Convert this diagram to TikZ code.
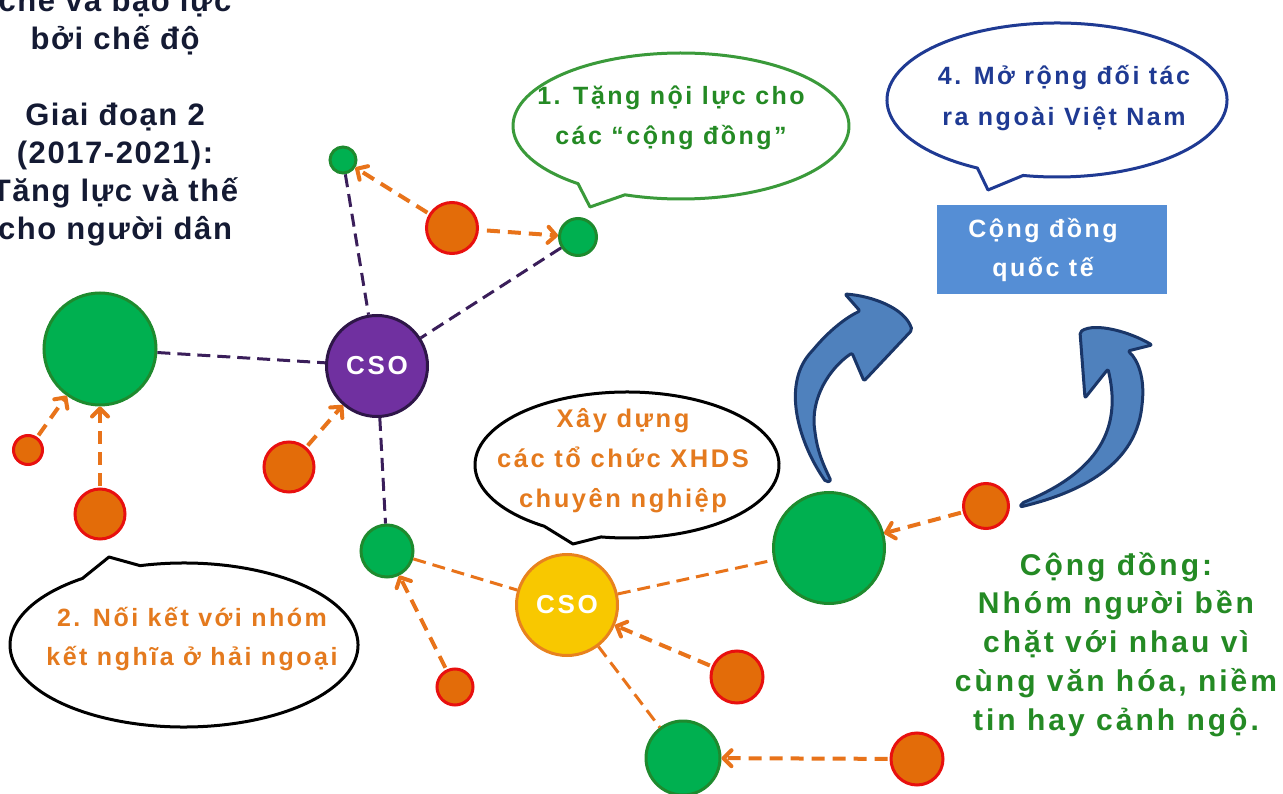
\documentclass[tikz,border=0pt]{standalone}
\usepackage{fontspec}
\setmainfont{Liberation Sans}
\newfontfamily\wide[LetterSpace=10]{Liberation Sans}
\newfontfamily\semi[LetterSpace=5]{Liberation Sans}
\usetikzlibrary{arrows.meta}

\definecolor{grfill}{HTML}{00B050}
\definecolor{grline}{HTML}{1E8A2E}
\definecolor{orfill}{HTML}{E36C09}
\definecolor{orline}{HTML}{E8100F}
\definecolor{purfill}{HTML}{7030A0}
\definecolor{purline}{HTML}{2E1648}
\definecolor{yelfill}{HTML}{F8C800}
\definecolor{yelline}{HTML}{E8821E}
\definecolor{lnor}{HTML}{E8731A}
\definecolor{lnpur}{HTML}{3A1E5A}
\definecolor{navytext}{HTML}{1F3A93}
\definecolor{greentext}{HTML}{248A24}
\definecolor{orangetext}{HTML}{E47A1E}
\definecolor{darktext}{HTML}{141A33}
\definecolor{boxblue}{HTML}{558ED5}
\definecolor{arrfill}{HTML}{4F81BD}
\definecolor{arrline}{HTML}{1A3668}
\definecolor{callgreen}{HTML}{3A9A3A}

\begin{document}
\begin{tikzpicture}[
	x=1pt, y=-1pt,
	ppl/.style  = {circle, draw=orline, fill=orfill, line width=3pt, inner sep=0pt, minimum size=#1},
	grp/.style  = {circle, draw=grline, fill=grfill, line width=3pt, inner sep=0pt, minimum size=#1},
	cso/.style  = {circle, line width=3pt, inner sep=0pt, minimum size=101pt, text=white,
	               font=\wide\bfseries\fontsize{26}{30}\selectfont},
	tie/.style  = {draw=lnpur, line width=3pt, dash pattern=on 13pt off 7pt},
	link/.style = {draw=lnor, line width=3pt, dash pattern=on 13pt off 7pt},
	push/.style = {draw=lnor, line width=4pt, dash pattern=on 13pt off 8pt,
	               -{Straight Barb[length=8pt, width=16pt, round]}, shorten <=2pt},
	call/.style = {line width=3pt, fill=white, line join=round},
	say/.style  = {anchor=base, align=center, font=\wide\bfseries\fontsize{25}{40}\selectfont},
	curl/.style = {fill=arrfill, draw=arrline, line width=3pt, line join=round, rounded corners=2pt}
	]
	\useasboundingbox (0,0) rectangle (1283,794);
	\clip (0,0) rectangle (1283,794);
%
	% speech bubbles
	\draw[call, draw=callgreen] (681,126) ++(127.8:168 and 73)
		arc[start angle=127.8, end angle=469.5, x radius=168, y radius=73] -- (590,207) -- cycle;
	\draw[call, draw=navytext] (1057,100) ++(117.9:170 and 77)
		arc[start angle=117.9, end angle=461.5, x radius=170, y radius=77] -- (988,190) -- cycle;
	\draw[call, draw=black] (184,645) ++(255.4:174 and 82)
		arc[start angle=255.4, end angle=594.3, x radius=174, y radius=82] -- (109,557) -- cycle;
	\draw[call, draw=black] (627,465) ++(123:152 and 73)
		arc[start angle=123, end angle=459.8, x radius=152, y radius=73] -- (573,544) -- cycle;
%
	\node (t1) [say, text=greentext] at (671,145) {1. Tặng nội lực cho\\ các “cộng đồng”};
	\node (t4) [say, text=navytext, font=\wide\bfseries\fontsize{25}{41}\selectfont]
		at (1064,126) {4. Mở rộng đối tác\\ ra ngoài Việt Nam};
	\node (t2) [say, text=orangetext, font=\wide\bfseries\fontsize{25}{39}\selectfont]
		at (192,665) {2. Nối kết với nhóm\\ kết nghĩa ở hải ngoại};
	\node (t3) [say, text=orangetext, font=\wide\bfseries\fontsize{25.5}{40}\selectfont]
		at (623,507) {Xây dựng\\ các tổ chức XHDS\\ chuyên nghiệp};
%
	\node (tl) [anchor=base, align=center, text=darktext, font=\semi\bfseries\fontsize{31}{38}\selectfont]
		at (115,240) {chế và bạo lực\\ bởi chế độ\\[38pt] Giai đoạn 2\\ (2017-2021):\\ Tăng lực và thế\\ cho người dân};
	\node (tg) [say, text=greentext, font=\wide\bfseries\fontsize{30}{38.7}\selectfont]
		at (1116,730) {Cộng đồng:\\ Nhóm người bền\\ chặt với nhau vì\\ cùng văn hóa, niềm\\ tin hay cảnh ngộ.};
%
	\node (qt) [fill=boxblue, minimum width=230pt, minimum height=89pt, align=center, text=white,
		font=\wide\bfseries\fontsize{25}{39}\selectfont] at (1052,249.5) {Cộng đồng\hspace*{18pt}\\ quốc tế\hspace*{18pt}};
%
	% curved arrows
	\draw[curl] (826,482) .. controls (800,445) and (780,385) .. (813,350)
		.. controls (828,332) and (845,318) .. (860,311) -- (845,294)
		.. controls (872,296) and (905,308) .. (912,330) -- (864,381) -- (852,353)
		.. controls (830,368) and (810,398) .. (815,432)
		.. controls (818,455) and (826,470) .. (831,481) -- cycle;
	\draw[curl] (1020,507) .. controls (1070,495) and (1135,470) .. (1142,405)
		.. controls (1145,378) and (1138,360) .. (1128,351) -- (1152,345)
		.. controls (1130,332) and (1095,322) .. (1080,332) -- (1085,398) -- (1108,369)
		.. controls (1120,420) and (1108,468) .. (1022,503) -- cycle;
%
	% circles
	\node (csoP) [cso, draw=purline, fill=purfill] at (377,366) {CSO};
	\node (csoY) [cso, draw=yelline, fill=yelfill] at (567,605) {CSO};
	\node (gL) [grp=112pt] at (100,349) {};
	\node (gT) [grp=26pt]  at (343,160) {};
	\node (gN) [grp=37pt]  at (578,237) {};
	\node (gS) [grp=52pt]  at (387,551) {};
	\node (gR) [grp=111pt] at (829,548) {};
	\node (gB) [grp=74pt]  at (683,758) {};
	\node (oT)  [ppl=51pt] at (452,228) {};
	\node (oL)  [ppl=29pt] at (28,450) {};
	\node (oLb) [ppl=50pt] at (100,514) {};
	\node (oC)  [ppl=50pt] at (289,467) {};
	\node (oS)  [ppl=36pt] at (455,687) {};
	\node (oY)  [ppl=52pt] at (737,677) {};
	\node (oB)  [ppl=52pt] at (917,759) {};
	\node (oR)  [ppl=45pt] at (986,506) {};
%
	% ties
	\draw[tie] (gL) -- (csoP);
	\draw[tie] (gT) -- (csoP);
	\draw[tie] (gN) -- (csoP);
	\draw[tie] (csoP) -- (gS);
	\draw[link] (gS) -- (csoY);
	\draw[link] (csoY) -- (gR);
	\draw[link] (csoY) -- (gB);
%
	\draw[push] (oT) -- (gT);
	\draw[push, shorten <=8pt] (oT) -- (gN);
	\draw[push] (oL) -- (gL);
	\draw[push] (oLb) -- (gL);
	\draw[push] (oC) -- (csoP);
	\draw[push] (oS) -- (gS);
	\draw[push] (oY) -- (csoY);
	\draw[push] (oB) -- (gB);
	\draw[push] (oR) -- (gR);
\end{tikzpicture}
\end{document}
